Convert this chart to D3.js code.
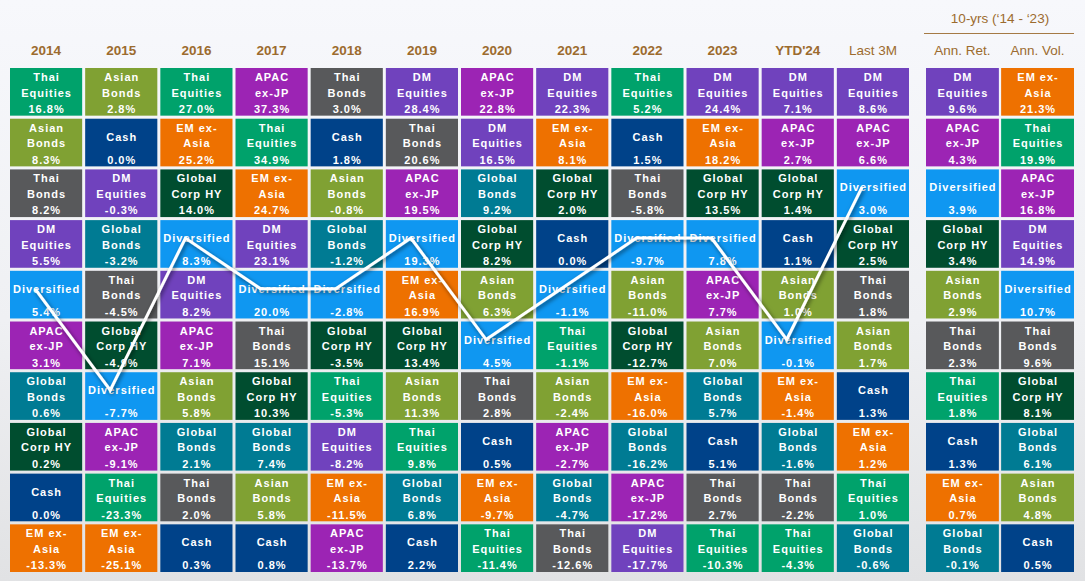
<!DOCTYPE html>
<html>
<head>
<meta charset="utf-8">
<script src="https://cdn.jsdelivr.net/npm/d3@7"></script>
<style>
  html, body { margin: 0; padding: 0; }
  body { width: 1085px; height: 581px; overflow: hidden; }
  svg { display: block; font-family: "Liberation Sans", Arial, sans-serif; }
</style>
</head>
<body>
<svg id="chart" width="1085" height="581"></svg>
<script>
// ---------------- DATA ----------------
const mainHeaders = ["2014","2015","2016","2017","2018","2019","2020","2021","2022","2023","YTD'24","Last 3M"];
const sideHeaders = ["Ann. Ret.","Ann. Vol."];
const sideTitle = "10-yrs (\u201814 - \u201823)";

const assetsByColumn = [
  ["Thai Equities","Asian Bonds","Thai Bonds","DM Equities","Diversified","APAC ex-JP","Global Bonds","Global Corp HY","Cash","EM ex-Asia"],
  ["Asian Bonds","Cash","DM Equities","Global Bonds","Thai Bonds","Global Corp HY","Diversified","APAC ex-JP","Thai Equities","EM ex-Asia"],
  ["Thai Equities","EM ex-Asia","Global Corp HY","Diversified","DM Equities","APAC ex-JP","Asian Bonds","Global Bonds","Thai Bonds","Cash"],
  ["APAC ex-JP","Thai Equities","EM ex-Asia","DM Equities","Diversified","Thai Bonds","Global Corp HY","Global Bonds","Asian Bonds","Cash"],
  ["Thai Bonds","Cash","Asian Bonds","Global Bonds","Diversified","Global Corp HY","Thai Equities","DM Equities","EM ex-Asia","APAC ex-JP"],
  ["DM Equities","Thai Bonds","APAC ex-JP","Diversified","EM ex-Asia","Global Corp HY","Asian Bonds","Thai Equities","Global Bonds","Cash"],
  ["APAC ex-JP","DM Equities","Global Bonds","Global Corp HY","Asian Bonds","Diversified","Thai Bonds","Cash","EM ex-Asia","Thai Equities"],
  ["DM Equities","EM ex-Asia","Global Corp HY","Cash","Diversified","Thai Equities","Asian Bonds","APAC ex-JP","Global Bonds","Thai Bonds"],
  ["Thai Equities","Cash","Thai Bonds","Diversified","Asian Bonds","Global Corp HY","EM ex-Asia","Global Bonds","APAC ex-JP","DM Equities"],
  ["DM Equities","EM ex-Asia","Global Corp HY","Diversified","APAC ex-JP","Asian Bonds","Global Bonds","Cash","Thai Bonds","Thai Equities"],
  ["DM Equities","APAC ex-JP","Global Corp HY","Cash","Asian Bonds","Diversified","EM ex-Asia","Global Bonds","Thai Bonds","Thai Equities"],
  ["DM Equities","APAC ex-JP","Diversified","Global Corp HY","Thai Bonds","Asian Bonds","Cash","EM ex-Asia","Thai Equities","Global Bonds"]
];
const valuesByColumn = [
  [16.8, 8.3, 8.2, 5.5, 5.4, 3.1, 0.6, 0.2, 0.0, -13.3],
  [2.8, 0.0, -0.3, -3.2, -4.5, -4.9, -7.7, -9.1, -23.3, -25.1],
  [27.0, 25.2, 14.0, 8.3, 8.2, 7.1, 5.8, 2.1, 2.0, 0.3],
  [37.3, 34.9, 24.7, 23.1, 20.0, 15.1, 10.3, 7.4, 5.8, 0.8],
  [3.0, 1.8, -0.8, -1.2, -2.8, -3.5, -5.3, -8.2, -11.5, -13.7],
  [28.4, 20.6, 19.5, 19.3, 16.9, 13.4, 11.3, 9.8, 6.8, 2.2],
  [22.8, 16.5, 9.2, 8.2, 6.3, 4.5, 2.8, 0.5, -9.7, -11.4],
  [22.3, 8.1, 2.0, 0.0, -1.1, -1.1, -2.4, -2.7, -4.7, -12.6],
  [5.2, 1.5, -5.8, -9.7, -11.0, -12.7, -16.0, -16.2, -17.2, -17.7],
  [24.4, 18.2, 13.5, 7.8, 7.7, 7.0, 5.7, 5.1, 2.7, -10.3],
  [7.1, 2.7, 1.4, 1.1, 1.0, -0.1, -1.4, -1.6, -2.2, -4.3],
  [8.6, 6.6, 3.0, 2.5, 1.8, 1.7, 1.3, 1.2, 1.0, -0.6]
];
const sideAssetsByColumn = [
  ["DM Equities","APAC ex-JP","Diversified","Global Corp HY","Asian Bonds","Thai Bonds","Thai Equities","Cash","EM ex-Asia","Global Bonds"],
  ["EM ex-Asia","Thai Equities","APAC ex-JP","DM Equities","Diversified","Thai Bonds","Global Corp HY","Global Bonds","Asian Bonds","Cash"]
];
const sideValuesByColumn = [
  [9.6, 4.3, 3.9, 3.4, 2.9, 2.3, 1.8, 1.3, 0.7, -0.1],
  [21.3, 19.9, 16.8, 14.9, 10.7, 9.6, 8.1, 6.1, 4.8, 0.5]
];

const assetNames = ["Thai Equities","Asian Bonds","APAC ex-JP","Thai Bonds","DM Equities","Cash","EM ex-Asia","Global Corp HY","Global Bonds","Diversified"];
const assetColors = ["#00a26b","#80a133","#9c24b4","#58595b","#7042bd","#004289","#ee7100","#004d2f","#007b93","#0f97f1"];
const assetLines = [["Thai","Equities"],["Asian","Bonds"],["APAC","ex-JP"],["Thai","Bonds"],["DM","Equities"],["Cash"],["EM ex-","Asia"],["Global","Corp HY"],["Global","Bonds"],["Diversified"]];
const highlightAsset = "Diversified";

// ---------------- CHART ----------------
const svg = d3.select("#chart");
const W = 1085, H = 581;

const defs = svg.append("defs");
const grad = defs.append("linearGradient").attr("id","bg").attr("x1",0).attr("y1",0).attr("x2",0).attr("y2",1);
grad.append("stop").attr("offset","0%").attr("stop-color","#f7f8fc");
grad.append("stop").attr("offset","55%").attr("stop-color","#eff0f3");
grad.append("stop").attr("offset","100%").attr("stop-color","#e1e2e4");
const filt = defs.append("filter").attr("id","shadow").attr("x","-20%").attr("y","-20%").attr("width","140%").attr("height","140%");
filt.append("feDropShadow").attr("dx",1.5).attr("dy",2).attr("stdDeviation",2)
  .attr("flood-color","#000").attr("flood-opacity",0.55);

svg.append("rect").attr("width",W).attr("height",H).attr("fill","url(#bg)");

const color = d3.scaleOrdinal().domain(assetNames).range(assetColors);
const lines = d3.scaleOrdinal().domain(assetNames).range(assetLines);

const xMain = d3.scaleBand().domain(mainHeaders).range([10, 909]).paddingInner(0.04);
const xSide = d3.scaleBand().domain(sideHeaders).range([926, 1074]).paddingInner(0.03);
const y = d3.scaleBand().domain(d3.range(10)).range([68, 572]).paddingInner(0.06);

const headerColor = "#9c6b2e";

// headers
svg.append("g").selectAll("text").data(mainHeaders).join("text")
  .attr("x", d => xMain(d) + xMain.bandwidth()/2)
  .attr("y", 50)
  .attr("text-anchor","middle").attr("dominant-baseline","central")
  .attr("font-size", 13.5)
  .attr("font-weight", d => d === "Last 3M" ? 400 : 700)
  .attr("fill", headerColor)
  .text(d => d);

svg.append("g").selectAll("text").data(sideHeaders).join("text")
  .attr("x", d => xSide(d) + xSide.bandwidth()/2)
  .attr("y", 50)
  .attr("text-anchor","middle").attr("dominant-baseline","central")
  .attr("font-size", 13.5)
  .attr("fill", headerColor)
  .text(d => d);

svg.append("text")
  .attr("x", (xSide.range()[0] + xSide.range()[1]) / 2)
  .attr("y", 18)
  .attr("text-anchor","middle").attr("dominant-baseline","central")
  .attr("font-size", 13.5).attr("fill", headerColor)
  .text(sideTitle);
svg.append("line")
  .attr("x1", xSide.range()[0] - 2).attr("x2", xSide.range()[1])
  .attr("y1", 33.5).attr("y2", 33.5)
  .attr("stroke", "#a57a45").attr("stroke-width", 1);

// cells
function fmt(v){ return v.toFixed(1) + "%"; }

function drawColumn(g, x0, bw, assets, values){
  const data = assets.map((a,i) => ({asset:a, value:values[i], rank:i}));
  const cell = g.selectAll("g.cell").data(data).join("g").attr("class","cell")
    .attr("transform", d => `translate(${x0},${y(d.rank)})`);
  cell.append("rect").attr("width", bw).attr("height", y.bandwidth()).attr("fill", d => color(d.asset));
  cell.each(function(d){
    const sel = d3.select(this);
    const ls = lines(d.asset);
    const offs = ls.length === 1 ? [18] : [9, 24.5];
    ls.forEach((t,i) => {
      sel.append("text").attr("x", bw/2 + 0.5).attr("y", offs[i])
        .attr("text-anchor","middle").attr("dominant-baseline","central")
        .attr("fill","#fff").attr("font-size", 11).attr("font-weight", 700)
        .attr("letter-spacing", 1).text(t);
    });
    sel.append("text").attr("x", bw/2 + 0.5).attr("y", 41)
      .attr("text-anchor","middle").attr("dominant-baseline","central")
      .attr("fill","#fff").attr("font-size", 11).attr("font-weight", 700)
      .attr("letter-spacing", 1).text(fmt(d.value));
  });
}

mainHeaders.forEach((h, ci) => {
  drawColumn(svg.append("g"), xMain(h), xMain.bandwidth(), assetsByColumn[ci], valuesByColumn[ci]);
});
sideHeaders.forEach((h, ci) => {
  drawColumn(svg.append("g"), xSide(h), xSide.bandwidth(), sideAssetsByColumn[ci], sideValuesByColumn[ci]);
});

// highlight line through Diversified cells
const pts = mainHeaders.map((h, ci) => {
  const r = assetsByColumn[ci].indexOf(highlightAsset);
  return [xMain(h) + xMain.bandwidth()/2 - 11, y(r) + 18];
});
svg.append("path")
  .attr("d", d3.line()(pts))
  .attr("fill","none").attr("stroke","#fff").attr("stroke-width",3)
  .attr("stroke-linejoin","miter")
  .attr("filter","url(#shadow)");
</script>
</body>
</html>
